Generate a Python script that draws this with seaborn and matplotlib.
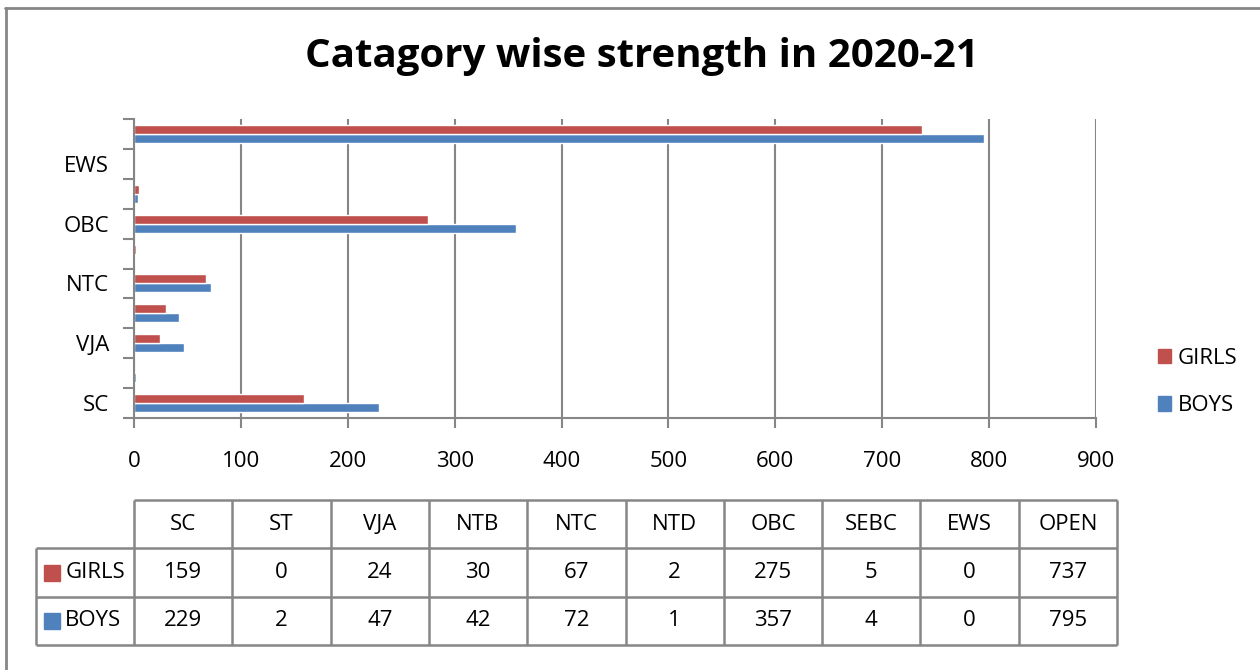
import pandas as pd
import numpy as np
import matplotlib
matplotlib.use("Agg")
import matplotlib.pyplot as plt
import seaborn as sns
from matplotlib.patches import Patch
from matplotlib.lines import Line2D

# data
categories = ["SC", "ST", "VJA", "NTB", "NTC", "NTD", "OBC", "SEBC", "EWS", "OPEN"]
girls = [159, 0, 24, 30, 67, 2, 275, 5, 0, 737]
boys = [229, 2, 47, 42, 72, 1, 357, 4, 0, 795]
shown_labels = ["SC", "VJA", "NTC", "OBC", "EWS"]
x_ticks = [0, 100, 200, 300, 400, 500, 600, 700, 800, 900]

RED = "#C0504D"
BLUE = "#4F81BD"
GRAY = "#868686"

sns.set_style("white")
plt.rcParams["font.family"] = ["Open Sans", "DejaVu Sans"]
plt.rcParams["text.color"] = "black"
plt.rcParams["xtick.labelcolor"] = "black"
plt.rcParams["ytick.labelcolor"] = "black"

df = pd.DataFrame({
    "category": categories * 2,
    "count": girls + boys,
    "group": ["GIRLS"] * len(categories) + ["BOYS"] * len(categories),
})

W, H = 1260, 670
fig = plt.figure(figsize=(W / 100, H / 100), dpi=100)

# ===== MAIN BAR CHART =====
ax = fig.add_axes([134 / W, 1 - 418 / H, (1096 - 134) / W, (418 - 119) / H])
sns.barplot(data=df, y="category", x="count", hue="group",
            order=categories, hue_order=["BOYS", "GIRLS"],
            palette={"GIRLS": RED, "BOYS": BLUE}, orient="h",
            width=0.6, gap=0, saturation=1, legend=False, ax=ax)
ax.set_ylim(-0.5, len(categories) - 0.5)
ax.set_xlim(0, 900)
ax.set_xlabel("")
ax.set_ylabel("")

ax.set_xticks(x_ticks)
ax.set_yticks([categories.index(c) for c in shown_labels])
ax.set_yticklabels(shown_labels)
ax.set_yticks(np.arange(-0.5, len(categories), 1), minor=True)
ax.tick_params(axis="y", which="major", length=0, pad=18, labelsize=16, labelcolor="black")
ax.tick_params(axis="y", which="minor", length=8, width=1.5, color=GRAY, direction="out", left=True)
ax.tick_params(axis="x", length=7, width=1.5, color=GRAY, direction="out", bottom=True, pad=17,
               labelsize=16, labelcolor="black")
ax.grid(axis="x", color=GRAY, linewidth=1.5)
ax.set_axisbelow(True)
for s in ["top", "right"]:
    ax.spines[s].set_visible(False)
for s in ["left", "bottom"]:
    ax.spines[s].set_color(GRAY)
    ax.spines[s].set_linewidth(1.5)

fig.text(642 / W, 1 - 57 / H, "Catagory wise strength in 2020-21",
         ha="center", va="center", fontsize=29, fontweight="bold", color="black")

fig.legend(handles=[Patch(color=RED, label="GIRLS"), Patch(color=BLUE, label="BOYS")],
           loc="center left", bbox_to_anchor=(1138 / W, 1 - 382 / H), frameon=False,
           fontsize=16, handlelength=0.6, handleheight=0.6, handletextpad=0.3,
           labelspacing=1.2, labelcolor="black")

# ===== DATA TABLE =====
col_w = (1117 - 134) / 10
tax = fig.add_axes([(134 - col_w) / W, 1 - 645 / H, (1117 - 134 + col_w) / W, (645 - 500) / H])
tax.set_xlim(-1, 10)
tax.set_ylim(0, 3)
tax.axis("off")
lk = dict(color=GRAY, linewidth=1.8, clip_on=False)
tax.vlines(range(0, 11), 0, 3, **lk)
tax.vlines(-1, 0, 2, **lk)
tax.hlines([0, 1, 2], -1, 10, **lk)
tax.hlines(3, 0, 10, **lk)
for i, c in enumerate(categories):
    tax.text(i + 0.5, 2.5, c, ha="center", va="center", fontsize=16)
    tax.text(i + 0.5, 1.5, str(girls[i]), ha="center", va="center", fontsize=16)
    tax.text(i + 0.5, 0.5, str(boys[i]), ha="center", va="center", fontsize=16)
for y, lab, col in [(1.5, "GIRLS", RED), (0.5, "BOYS", BLUE)]:
    tax.plot(-0.83, y, marker="s", markersize=11, color=col, clip_on=False)
    tax.text(-0.7, y, lab, ha="left", va="center", fontsize=16)

# ===== OUTER BORDER =====
fig.add_artist(Line2D([5 / W, 1], [1 - 8 / H, 1 - 8 / H], color=GRAY, linewidth=2))
fig.add_artist(Line2D([6 / W, 6 / W], [1 - 8 / H, 0], color=GRAY, linewidth=2))

fig.savefig("out.png", dpi=100)
